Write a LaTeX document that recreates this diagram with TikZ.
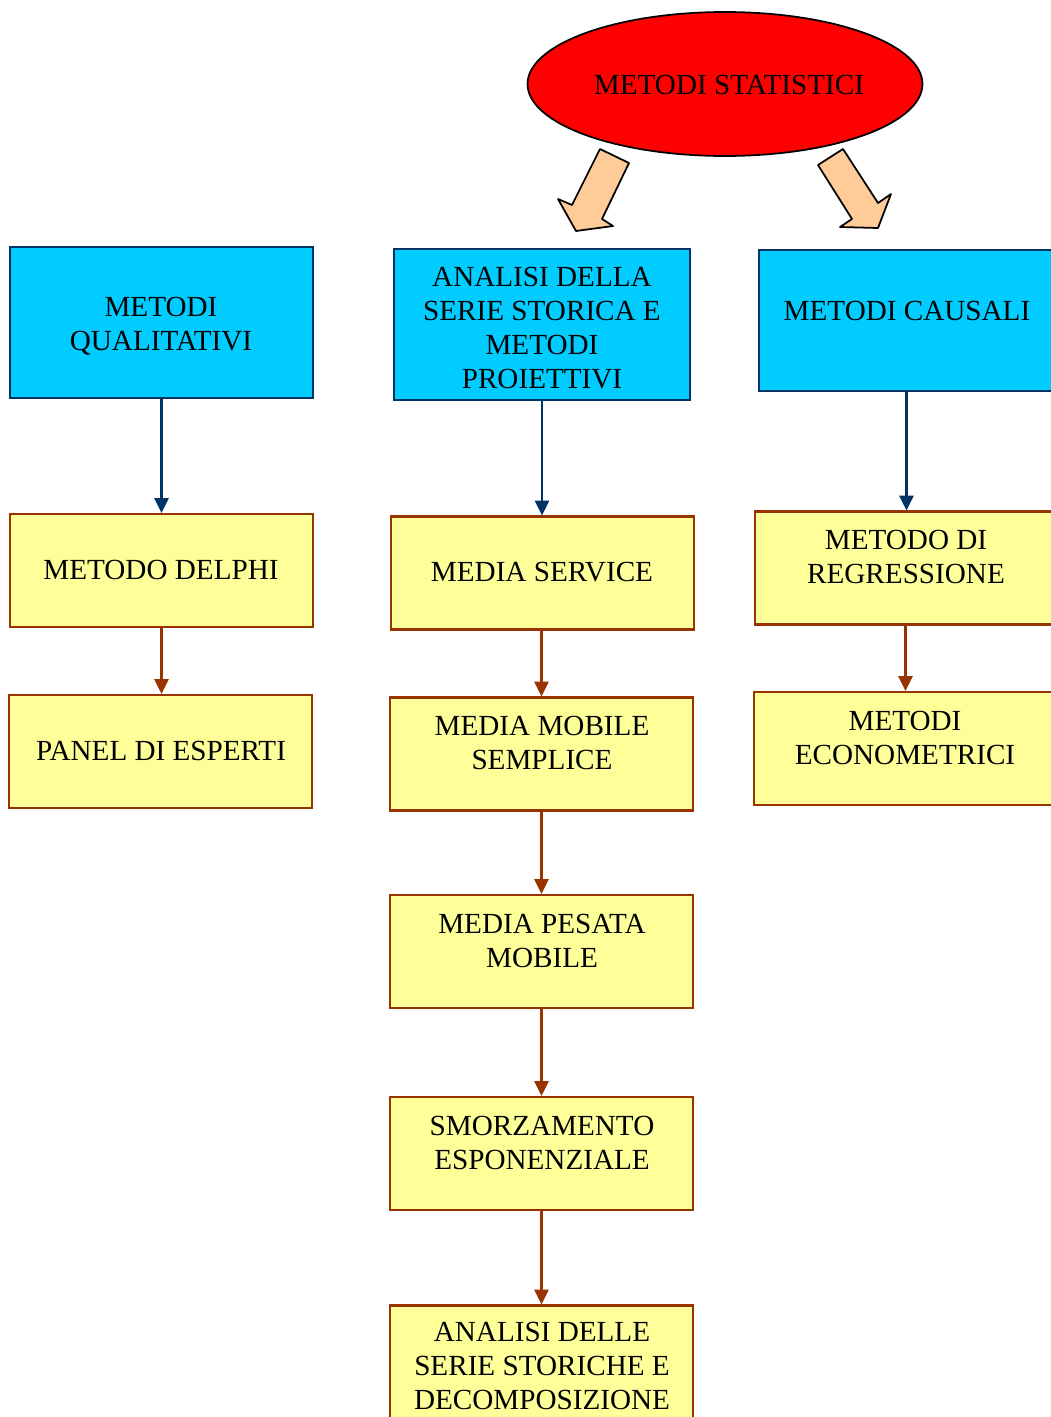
\documentclass[tikz,border=0pt]{standalone}
\usepackage{fontspec}
\setmainfont{Liberation Serif}
\usetikzlibrary{shapes.geometric,arrows.meta}

\definecolor{boxblue}{HTML}{00CCFF}
\definecolor{navyline}{HTML}{003366}
\definecolor{boxyellow}{HTML}{FFFF99}
\definecolor{brownline}{HTML}{993300}
\definecolor{peach}{HTML}{FFCC99}

\begin{document}
\begin{tikzpicture}[x=0.02cm, y=-0.02cm,
    bluebox/.style={draw=navyline, fill=boxblue, line width=1.2pt, minimum width=6.06cm, minimum height=3.02cm},
    yellowbox/.style={draw=brownline, fill=boxyellow, line width=1.2pt, minimum width=6.06cm, minimum height=2.26cm},
    boxtext/.style={font=\fontsize{16.6}{19.3}\selectfont, align=center, inner sep=0pt},
    bluelink/.style={draw=navyline, line width=1.4pt, -{Triangle[width=8pt,length=8.5pt]}},
    brownlink/.style={draw=brownline, line width=1.4pt, -{Triangle[width=8pt,length=8.5pt]}},
    blockarrow/.style={draw=black, fill=peach, line width=1pt, line join=round}]
    \useasboundingbox (0,0) rectangle (1051,1417);
    \clip (0,0) rectangle (1051,1417);

    % top ellipse
    \node [ellipse, draw=black, fill=red, line width=1pt, minimum width=7.9cm, minimum height=2.88cm] (stat) at (725,84) {};
    \node [boxtext] (statT) at (729,85) {METODI STATISTICI};

    % block arrows
    \draw [blockarrow] (600,149) -- (629,163) -- (602,219) -- (613,226) -- (576,231) -- (558,199) -- (572,205) -- cycle;
    \draw [blockarrow] (818,165) -- (843,149) -- (878,203) -- (891,194) -- (878,228) -- (840,227) -- (852,219) -- cycle;

    % blue boxes
    \node [bluebox] (qual) at (161.5,322.5) {};
    \node [bluebox, minimum width=5.92cm] (serie) at (542,324.5) {};
    \node [bluebox, minimum height=2.82cm] (caus) at (910.5,320.5) {};
    \node [boxtext] (qualT) at (161,326) {METODI\\QUALITATIVI};
    \node [boxtext] (serieT) at (542,328) {ANALISI DELLA\\SERIE STORICA E\\METODI\\PROIETTIVI};
    \node [boxtext] (causT) at (907,311) {METODI CAUSALI};

    % left column
    \node [yellowbox] (delphi) at (161.5,570.5) {};
    \node [yellowbox] (panel) at (160.5,751.5) {};
    \node [boxtext] (delphiT) at (161,570) {METODO DELPHI};
    \node [boxtext] (panelT) at (161,751) {PANEL DI ESPERTI};

    % middle column
    \node [yellowbox] (mserv) at (542.5,573) {};
    \node [yellowbox] (mmob) at (541.5,754) {};
    \node [yellowbox] (mpes) at (541.5,951.5) {};
    \node [yellowbox] (smorz) at (541.5,1153.5) {};
    \node [yellowbox] (decomp) at (541.5,1362) {};
    \node [boxtext] (mservT) at (542,572) {MEDIA SERVICE};
    \node [boxtext] (mmobT) at (542,743) {MEDIA MOBILE\\SEMPLICE};
    \node [boxtext] (mpesT) at (542,941) {MEDIA PESATA\\MOBILE};
    \node [boxtext] (smorzT) at (542,1143) {SMORZAMENTO\\ESPONENZIALE};
    \node [boxtext] (decompT) at (542,1366) {ANALISI DELLE\\SERIE STORICHE E\\DECOMPOSIZIONE};

    % right column
    \node [yellowbox] (regr) at (906.5,568) {};
    \node [yellowbox] (econ) at (905.5,748.5) {};
    \node [boxtext] (regrT) at (906,557) {METODO DI\\REGRESSIONE};
    \node [boxtext] (econT) at (905,738) {METODI\\ECONOMETRICI};

    % connectors
    \draw [bluelink] (qual.south) -- (qual.south |- delphi.north);
    \draw [bluelink] (serie.south) -- (serie.south |- mserv.north);
    \draw [bluelink] (caus.south -| regr.north) -- (regr.north);
    \draw [brownlink] (delphi.south) -- (delphi.south |- panel.north);
    \draw [brownlink] (mmob.north |- mserv.south) -- (mmob.north);
    \draw [brownlink] (mmob.south) -- (mpes.north);
    \draw [brownlink] (mpes.south) -- (smorz.north);
    \draw [brownlink] (smorz.south) -- (decomp.north);
    \draw [brownlink] (econ.north |- regr.south) -- (econ.north);
\end{tikzpicture}
\end{document}
